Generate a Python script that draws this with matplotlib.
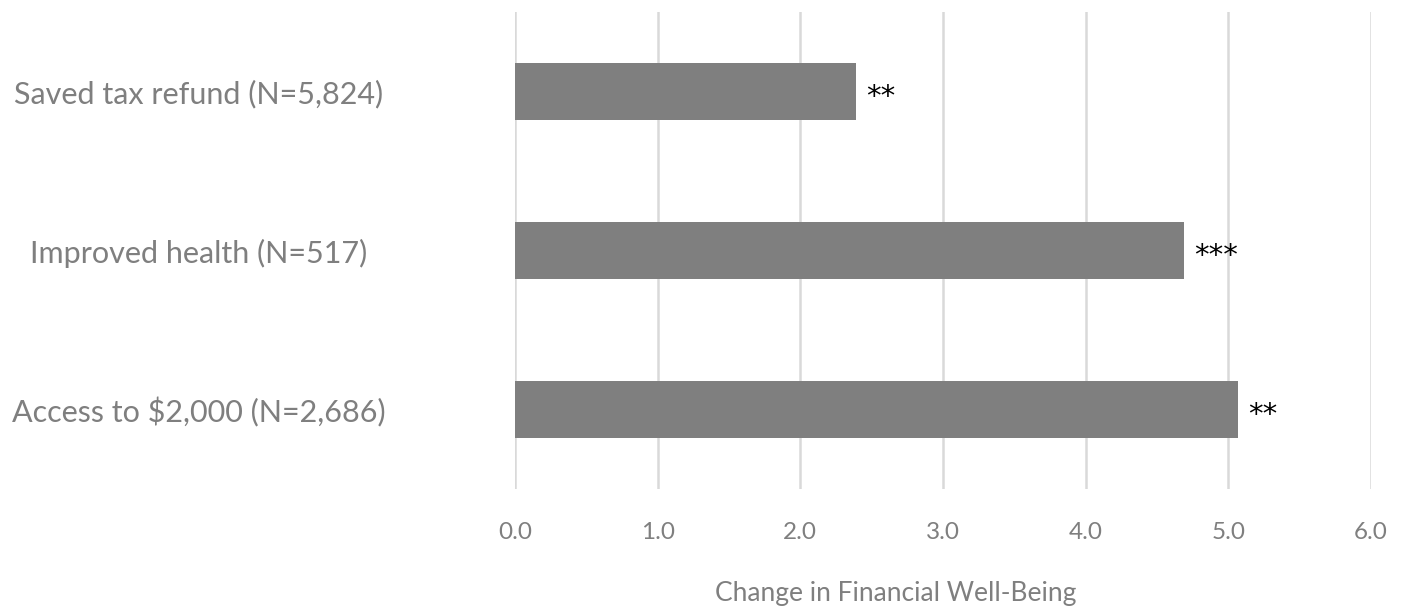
import matplotlib
matplotlib.use("Agg")
import matplotlib.pyplot as plt

# chart data, top to bottom
categories = ["Saved tax refund (N=5,824)", "Improved health (N=517)", "Access to $2,000 (N=2,686)"]
values = [2.39, 4.69, 5.07]
stars = ["**", "***", "**"]
xticks = [0, 1, 2, 3, 4, 5, 6]

plt.rcParams['font.family'] = ['Lato', 'DejaVu Sans']

W, H = 1403, 609
fig = plt.figure(figsize=(W / 100, H / 100), dpi=100)
ax = fig.add_axes([515 / W, 120 / H, 856 / W, 477 / H])

ypos = list(range(len(categories)))
ax.barh(ypos, values, height=0.355, color="#7f7f7f", zorder=3)

for y, v, s in zip(ypos, values, stars):
    ax.annotate(s, (v, y), xytext=(7, -4), textcoords="offset points",
                ha="left", va="center", fontsize=21, color="black",
                family="DejaVu Sans", zorder=4)

ax.set_xlim(0, 6)
ax.set_ylim(len(categories) - 0.5, -0.5)
ax.set_xticks(xticks)
ax.set_xticklabels([f"{t:.1f}" for t in xticks])
ax.set_yticks(ypos)
ax.set_yticklabels(categories, ha="center")

ax.grid(axis="x", color="#d9d9d9", linewidth=1.8, zorder=0)
ax.grid(axis="y", visible=False)
for sp in ax.spines.values():
    sp.set_visible(False)

ax.tick_params(axis="x", length=0, pad=24, labelsize=17.5, labelcolor="#7f7f7f")
ax.tick_params(axis="y", length=0, pad=228, labelsize=22, labelcolor="#7f7f7f")

fig.text(896 / W, 1 - 593 / H, "Change in Financial Well-Being", ha="center", va="center",
         fontsize=19, color="#7f7f7f")

fig.savefig("out.png", dpi=100)
